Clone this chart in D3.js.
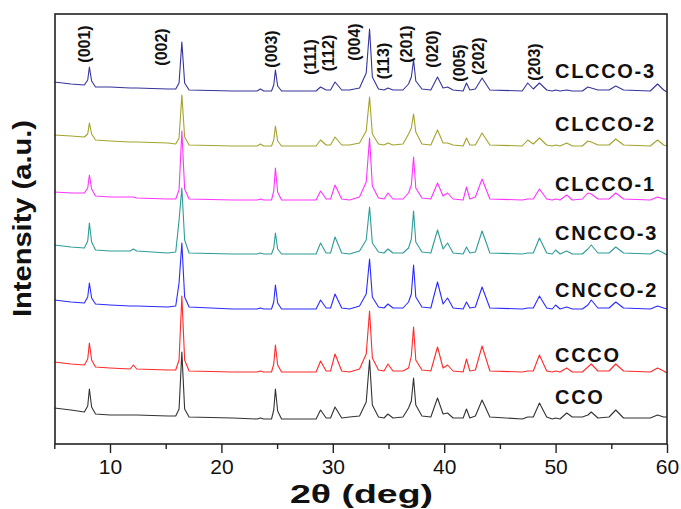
<!DOCTYPE html>
<html lang="en">
<head>
<meta charset="UTF-8">
<title>XRD patterns</title>
<style>
  body { margin: 0; background: #fff; }
  svg text { font-family: Arial, 'Liberation Sans', sans-serif; fill: #111; }
</style>
</head>
<body>
<svg id="chart" width="681" height="509"></svg>
<script src="https://d3js.org/d3.v7.min.js"></script>
<script>
// 2theta grid (deg) shared by all patterns
const twoTheta = [5.0, 6.5, 7.7, 8.0, 8.15, 8.35, 8.7, 10.0, 11.8, 12.1, 12.4, 15.2, 15.9, 16.2, 16.45, 16.7, 17.1,
  21.0, 23.2, 23.5, 23.8, 24.5, 24.7, 24.85, 25.05, 25.4, 28.5, 28.9, 29.4, 29.8, 30.2, 30.8, 31.5, 32.4,
  33.0, 33.3, 33.55, 34.1, 34.6, 34.95, 35.4, 36.3, 36.8, 37.05, 37.25, 37.45, 38.0, 38.8, 39.4, 39.9,
  40.3, 40.8, 41.7, 42.0, 42.3, 42.8, 43.4, 44.1, 47.0, 47.5, 48.0, 48.55, 49.2, 49.7, 50.0, 50.4,
  51.0, 51.5, 52.4, 52.9, 53.2, 53.8, 54.8, 55.4, 56.1, 58.5, 59.15, 59.7, 60.0];

// intensities (a.u.) above each pattern's baseline, bottom to top
const cco    = [11,9,7,13,30,12,5,4,4,4,4,3,3,10,67,10,2,1,0,1,0,0,9,30,8,0,0,9,1,1,12,1,2,3,17,59,14,2,1,5,1,2,11,18,41,14,3,2,21,5,6,1,1,10,1,3,19,2,0,2,2,16,2,0,1,0,6,2,2,4,7,1,2,9,1,1,4,2,2];
const ccco   = [10,8,7,13,29,12,5,4,3,7,3,2,2,12,76,12,1,0,0,1,0,0,8,27,7,0,0,11,1,1,18,1,0,3,18,61,14,2,1,8,1,1,4,16,45,12,2,1,25,4,7,1,0,13,1,2,26,1,0,1,1,17,1,0,1,0,4,0,0,5,8,1,1,8,1,0,4,1,-1];
const cncco2 = [9,7,6,12,26,11,5,4,3,3,3,2,3,26,66,12,2,0,0,1,0,0,7,24,6,0,0,9,1,1,15,1,0,3,15,50,12,2,1,5,1,1,7,15,44,12,2,1,27,5,11,1,0,7,1,2,22,1,0,1,1,13,1,0,4,0,2,0,0,4,9,1,1,7,1,0,3,1,0];
const cncco3 = [9,7,6,13,31,12,4,3,3,5,3,1,2,34,66,14,1,0,0,1,0,0,6,21,5,0,0,11,1,1,17,1,0,3,14,47,11,2,1,5,1,1,6,15,43,12,2,1,24,5,11,1,0,7,1,2,23,1,0,1,1,16,1,0,4,0,3,0,0,5,9,1,1,7,1,0,4,1,-1];
const clcco1 = [8,7,7,12,25,11,4,3,3,3,2,1,1,10,69,11,1,0,0,1,0,0,9,32,8,0,0,9,1,1,15,1,0,3,18,62,14,2,1,7,1,1,7,15,43,12,2,1,17,4,7,1,0,13,1,3,21,1,0,1,1,11,1,0,1,0,5,0,1,7,6,1,1,7,1,0,3,1,1];
const clcco2 = [11,10,9,12,23,12,6,5,4,4,4,3,2,8,51,9,1,0,0,2,0,0,6,20,5,0,0,6,1,1,9,1,1,3,15,49,12,2,1,3,1,2,12,18,32,14,2,1,16,3,3,1,0,8,1,1,13,1,0,6,2,8,1,0,1,0,3,0,0,5,4,1,1,7,1,0,6,1,0];
const clcco3 = [9,7,6,11,24,10,4,4,3,3,3,2,2,8,49,8,1,0,0,2,0,0,6,21,5,0,0,4,1,1,9,1,1,3,18,62,14,2,1,3,1,1,7,14,31,10,2,1,14,3,4,1,0,8,1,2,13,1,0,8,2,8,1,0,1,0,1,0,0,4,3,1,1,5,1,0,7,1,-1];

const sampleNames = ['CCO', 'CCCO', 'CNCCO-2', 'CNCCO-3', 'CLCCO-1', 'CLCCO-2', 'CLCCO-3'];
const patterns = [cco, ccco, cncco2, cncco3, clcco1, clcco2, clcco3];
const offsets = [25, 72, 135, 190, 244, 298, 353];   // stacking offset (a.u.)
const colors = ['#333333', '#ff2a2a', '#2b2bff', '#2e9c98', '#ff33ff', '#a3a32c', '#34349c'];

// Miller indices and where their labels sit (2theta)
const hklLabels = ['(001)', '(002)', '(003)', '(111)', '(112)', '(004)', '(113)', '(201)', '(020)', '(005)', '(202)', '(203)'];
const hklLabelPos = [7.7, 14.6, 24.5, 27.95, 29.6, 31.9, 34.55, 36.65, 38.95, 41.4, 43.1, 48.1];
const hklLabelY = [44, 47, 49, 57, 53, 42, 61, 44, 49, 63, 56, 62];

const xTicks = [10, 20, 30, 40, 50, 60];

const svg = d3.select('#chart');
const plotL = 55, plotR = 667, plotT = 14, plotB = 444;

const x = d3.scaleLinear().domain([5, 60]).range([54.3, 667]);
const y = d3.scaleLinear().domain([0, 430]).range([plotB, plotT]);

// patterns
const line = d3.line()
    .x((d, i) => x(twoTheta[i]))
    .y(d => d);

patterns.forEach((p, k) => {
    svg.append('path')
        .datum(p.map(v => y(offsets[k] + v)))
        .attr('d', line)
        .attr('fill', 'none')
        .attr('stroke', colors[k])
        .attr('stroke-width', 1.1)
        .attr('stroke-linejoin', 'round');
});

// frame
svg.append('rect')
    .attr('x', plotL).attr('y', plotT)
    .attr('width', plotR - plotL).attr('height', plotB - plotT)
    .attr('fill', 'none')
    .attr('stroke', '#222')
    .attr('stroke-width', 1.6);

// x axis ticks (outside)
const minor = d3.range(5, 61, 5).filter(v => v % 10 !== 0);
svg.append('g')
    .attr('transform', `translate(0,${plotB})`)
    .call(d3.axisBottom(x).tickValues(minor).tickSize(5).tickFormat(''))
    .call(g => g.select('.domain').remove())
    .call(g => g.selectAll('line').attr('stroke', '#222').attr('stroke-width', 1.4));

const xAxis = svg.append('g')
    .attr('transform', `translate(0,${plotB})`)
    .call(d3.axisBottom(x).tickValues(xTicks).tickSize(9).tickPadding(6).tickFormat(d3.format('d')));
xAxis.select('.domain').remove();
xAxis.selectAll('line').attr('stroke', '#222').attr('stroke-width', 1.4);
xAxis.selectAll('text')
    .style('font-size', '21px')
    .style('font-family', 'Arial, Liberation Sans, sans-serif')
    .attr('fill', '#111');

// sample names
const nameY = [404, 362, 297, 240, 191, 131, 78];
svg.selectAll('.name')
    .data(sampleNames)
    .enter()
    .append('text')
    .attr('class', 'name')
    .attr('x', 555)
    .attr('y', (d, i) => nameY[i])
    .style('font-size', '20px')
    .style('font-weight', 'bold')
    .style('letter-spacing', '1.7px')
    .text(d => d);

// hkl labels
svg.selectAll('.hkl')
    .data(hklLabels)
    .enter()
    .append('text')
    .attr('class', 'hkl')
    .attr('transform', (d, i) => `translate(${x(hklLabelPos[i])},${hklLabelY[i]}) rotate(-90)`)
    .attr('text-anchor', 'middle')
    .attr('dy', '0.35em')
    .style('font-size', '16px')
    .style('font-weight', 'bold')
    .text(d => d);

// axis titles
svg.append('text')
    .attr('x', 290)
    .attr('y', 503)
    .attr('textLength', 143)
    .attr('lengthAdjust', 'spacingAndGlyphs')
    .style('font-size', '25px')
    .style('font-weight', 'bold')
    .text('2\u03b8 (deg)');

svg.append('text')
    .attr('transform', 'translate(31,317) rotate(-90)')
    .attr('textLength', 197)
    .attr('lengthAdjust', 'spacingAndGlyphs')
    .style('font-size', '25px')
    .style('font-weight', 'bold')
    .text('Intensity (a.u.)');
</script>
</body>
</html>
